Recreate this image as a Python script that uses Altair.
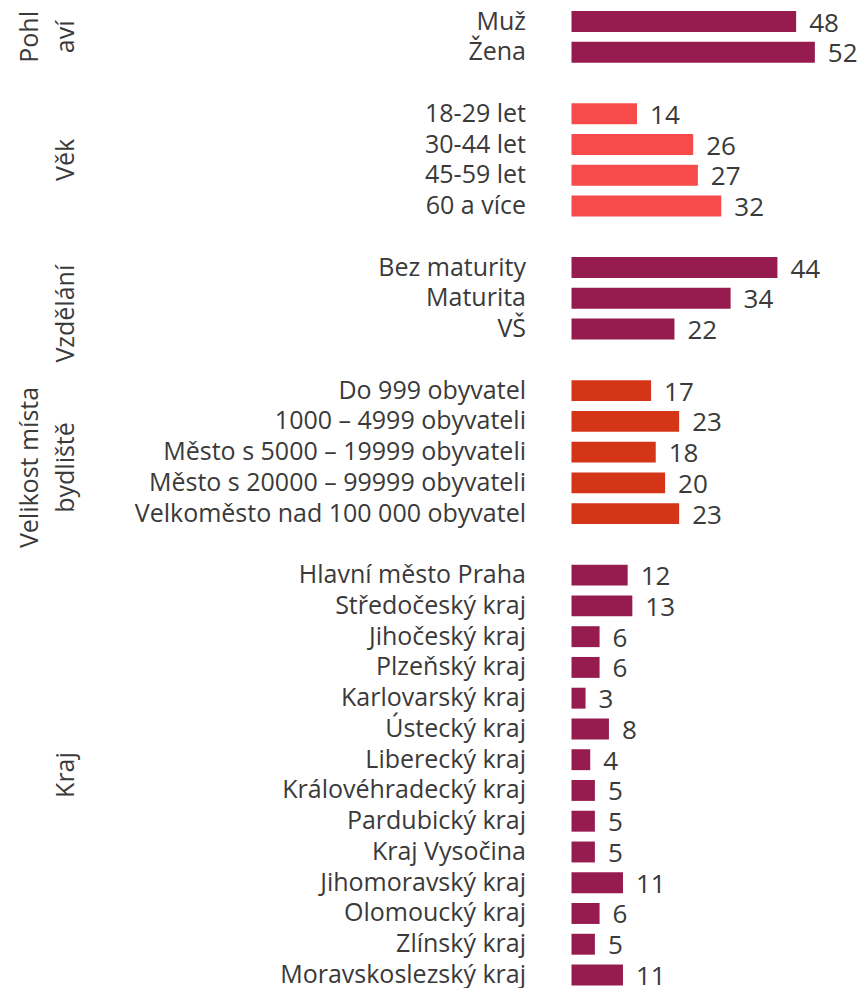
import altair as alt
import pandas as pd

# ---- data ----
groups = ["Pohlaví", "Věk", "Vzdělání", "Velikost místa bydliště", "Kraj"]
group_line1 = ["Pohl", "", "", "Velikost místa", ""]
group_line2 = ["aví", "Věk", "Vzdělání", "bydliště", "Kraj"]
group_label_row = [0.5, 4.5, 9.5, 14.5, 24.5]
group_colors = ["#961C50", "#F64B4A", "#961C50", "#D43517", "#961C50"]

cats_pohlavi = ["Muž", "Žena"]
vals_pohlavi = [48, 52]
cats_vek = ["18-29 let", "30-44 let", "45-59 let", "60 a více"]
vals_vek = [14, 26, 27, 32]
cats_vzdelani = ["Bez maturity", "Maturita", "VŠ"]
vals_vzdelani = [44, 34, 22]
cats_velikost = ["Do 999 obyvatel", "1000 – 4999 obyvateli",
                 "Město s 5000 – 19999 obyvateli", "Město s 20000 – 99999 obyvateli",
                 "Velkoměsto nad 100 000 obyvatel"]
vals_velikost = [17, 23, 18, 20, 23]
cats_kraj = ["Hlavní město Praha", "Středočeský kraj", "Jihočeský kraj", "Plzeňský kraj",
             "Karlovarský kraj", "Ústecký kraj", "Liberecký kraj", "Královéhradecký kraj",
             "Pardubický kraj", "Kraj Vysočina", "Jihomoravský kraj", "Olomoucký kraj",
             "Zlínský kraj", "Moravskoslezský kraj"]
vals_kraj = [12, 13, 6, 6, 3, 8, 4, 5, 5, 5, 11, 6, 5, 11]

all_cats = [cats_pohlavi, cats_vek, cats_vzdelani, cats_velikost, cats_kraj]
all_vals = [vals_pohlavi, vals_vek, vals_vzdelani, vals_velikost, vals_kraj]

rows = []
r = 0
for gi, g in enumerate(groups):
    for c, v in zip(all_cats[gi], all_vals[gi]):
        rows.append({"group": g, "cat": c, "value": v, "row": r})
        r += 1
    r += 1  # blank row between groups

df = pd.DataFrame(rows)
gdf = pd.DataFrame({"group": groups, "l1": group_line1, "l2": group_line2,
                    "row": group_label_row})

FONT = "Open Sans"
TXT = "#3a3a3a"

yscale = alt.Scale(domain=[0, 31], range=[13.5, 967])
xscale = alt.Scale(domain=[0, 60], range=[563.5, 563.5 + 60 * 4.68])
color = alt.Color("group:N", scale=alt.Scale(domain=groups, range=group_colors), legend=None)

base = alt.Chart(df)

bars = base.mark_rect().transform_calculate(
    y0="datum.row - 0.34", y1="datum.row + 0.34", zero="0"
).encode(
    x=alt.X("zero:Q", scale=xscale, axis=None),
    x2="value:Q",
    y=alt.Y("y0:Q", scale=yscale, axis=None),
    y2="y1:Q",
    color=color,
)

values = base.mark_text(align="left", baseline="middle", dx=13, dy=2,
                        font=FONT, fontSize=26, color=TXT).encode(
    x=alt.X("value:Q", scale=xscale, axis=None),
    y=alt.Y("row:Q", scale=yscale, axis=None),
    text="value:Q",
)

cats = base.mark_text(align="right", baseline="middle", font=FONT, fontSize=25,
                      color=TXT).encode(
    x=alt.value(518),
    y=alt.Y("row:Q", scale=yscale, axis=None),
    text="cat:N",
)

g1 = alt.Chart(gdf).mark_text(align="center", baseline="middle", angle=270,
                              font=FONT, fontSize=25, color=TXT).encode(
    x=alt.value(22),
    y=alt.Y("row:Q", scale=yscale, axis=None),
    text="l1:N",
)
g2 = alt.Chart(gdf).mark_text(align="center", baseline="middle", angle=270,
                              font=FONT, fontSize=25, color=TXT).encode(
    x=alt.value(58),
    y=alt.Y("row:Q", scale=yscale, axis=None),
    text="l2:N",
)

chart = alt.layer(bars, values, cats, g1, g2).properties(
    width=850, height=980, autosize=alt.AutoSizeParams(type="none"), padding=0
).configure_view(stroke=None)

chart.save("out.html", embed_options={"renderer": "svg", "actions": False})
